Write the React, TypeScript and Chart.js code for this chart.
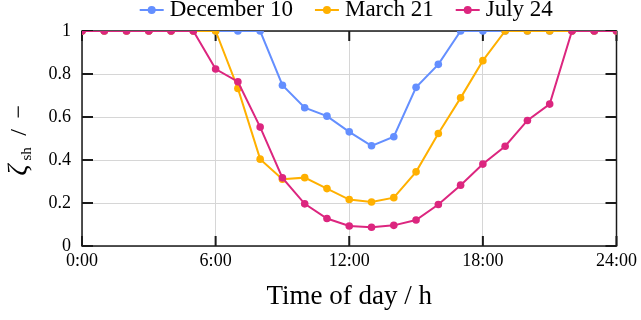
import { useEffect, useRef } from 'react';
import { Chart, registerables } from 'chart.js';

Chart.register(...registerables);

const hours = [0, 1, 2, 3, 4, 5, 6, 7, 8, 9, 10, 11, 12, 13, 14, 15, 16, 17, 18, 19, 20, 21, 22, 23, 24];
const december10 = [1, 1, 1, 1, 1, 1, 1, 1, 1, 0.748, 0.643, 0.604, 0.531, 0.466, 0.508, 0.738, 0.845, 1, 1, 1, 1, 1, 1, 1, 1];
const march21 = [1, 1, 1, 1, 1, 1, 1, 0.733, 0.404, 0.311, 0.318, 0.267, 0.216, 0.205, 0.225, 0.345, 0.523, 0.689, 0.862, 1, 1, 1, 1, 1, 1];
const july24 = [1, 1, 1, 1, 1, 1, 0.823, 0.764, 0.553, 0.317, 0.196, 0.128, 0.093, 0.087, 0.096, 0.121, 0.193, 0.283, 0.381, 0.464, 0.584, 0.66, 1, 1, 1];
const seriesNames = ['December 10', 'March 21', 'July 24'];
const seriesColors = ['#648FFF', '#FFB000', '#DC267F'];
const seriesValues = [december10, march21, july24];
const xTickValues = [0, 6, 12, 18, 24];
const xTickLabels = ['0:00', '6:00', '12:00', '18:00', '24:00'];
const yTickValues = [0, 0.2, 0.4, 0.6, 0.8, 1];
const yTickLabels = ['0', '0.2', '0.4', '0.6', '0.8', '1'];
const xTitle = 'Time of day / h';
const yTitleSymbol = 'ζ';
const yTitleSub = 'sh';
const yTitleSlash = '/';
const yTitleUnit = '−';

const SERIF = '"Liberation Serif", "Times New Roman", serif';

const framePlugin = {
  id: 'frameTicks',
  beforeDatasetsDraw(chart: any) {
    const { ctx, chartArea } = chart;
    const { left, right, top, bottom } = chartArea;
    const xs = chart.scales.x;
    const ys = chart.scales.y;
    ctx.save();
    ctx.strokeStyle = '#1a1a1a';
    ctx.lineWidth = 1.5;
    ctx.strokeRect(left, top, right - left, bottom - top);
    ctx.lineWidth = 2;
    ctx.beginPath();
    for (const v of xTickValues) {
      const px = xs.getPixelForValue(v);
      ctx.moveTo(px, bottom);
      ctx.lineTo(px, bottom - 10);
      ctx.moveTo(px, top);
      ctx.lineTo(px, top + 10);
    }
    for (const v of yTickValues) {
      const py = ys.getPixelForValue(v);
      ctx.moveTo(left, py);
      ctx.lineTo(left + 11, py);
      ctx.moveTo(right, py);
      ctx.lineTo(right - 11, py);
    }
    ctx.stroke();
    ctx.restore();
  },
};

const legendPlugin = {
  id: 'customLegend',
  afterDraw(chart: any) {
    const { ctx, chartArea } = chart;
    ctx.save();
    ctx.font = `23px ${SERIF}`;
    const markerW = 24;
    const textGap = 6;
    const itemGap = 22;
    const widths = seriesNames.map((n) => ctx.measureText(n).width);
    const total = widths.reduce((a, w) => a + markerW + textGap + w, 0) + itemGap * (seriesNames.length - 1);
    let x = (chartArea.left + chartArea.right) / 2 - total / 2 - 3;
    const cy = 10;
    const baseY = 16;
    seriesNames.forEach((name, i) => {
      ctx.strokeStyle = seriesColors[i];
      ctx.fillStyle = seriesColors[i];
      ctx.lineWidth = 2;
      ctx.beginPath();
      ctx.moveTo(x, cy);
      ctx.lineTo(x + markerW, cy);
      ctx.stroke();
      ctx.beginPath();
      ctx.arc(x + markerW / 2, cy, 4, 0, Math.PI * 2);
      ctx.fill();
      ctx.fillStyle = '#000';
      ctx.textBaseline = 'alphabetic';
      ctx.textAlign = 'left';
      ctx.fillText(name, x + markerW + textGap, baseY);
      x += markerW + textGap + widths[i] + itemGap;
    });
    ctx.restore();
  },
};

const yTitlePlugin = {
  id: 'yTitle',
  afterDraw(chart: any) {
    const { ctx, chartArea } = chart;
    const cy = (chartArea.top + chartArea.bottom) / 2;
    ctx.save();
    ctx.translate(26, cy + 37);
    ctx.rotate(-Math.PI / 2);
    ctx.fillStyle = '#000';
    ctx.textBaseline = 'alphabetic';
    ctx.textAlign = 'left';
    ctx.font = `italic 27px ${SERIF}`;
    ctx.fillText(yTitleSymbol, 0, 0);
    ctx.font = `15px ${SERIF}`;
    ctx.fillText(yTitleSub, 15, 4.5);
    ctx.font = `24px ${SERIF}`;
    ctx.textAlign = 'center';
    ctx.fillText(yTitleSlash, 43, 0);
    ctx.textAlign = 'left';
    ctx.fillText(yTitleUnit, 57, 0);
    ctx.restore();
  },
};

export default function App() {
  const ref = useRef<HTMLCanvasElement | null>(null);

  useEffect(() => {
    if (!ref.current) return;
    const order = [3, 2, 1];
    const chart = new Chart(ref.current, {
      type: 'line',
      data: {
        datasets: seriesNames.map((name, i) => ({
          label: name,
          data: hours.map((h, j) => ({ x: h, y: seriesValues[i][j] })),
          borderColor: seriesColors[i],
          backgroundColor: seriesColors[i],
          borderWidth: 2,
          pointRadius: 3.8,
          pointHoverRadius: 3.8,
          pointBorderWidth: 0,
          tension: 0,
          clip: 0,
          order: order[i],
        })),
      },
      options: {
        animation: false,
        responsive: true,
        maintainAspectRatio: false,
        events: [],
        layout: { padding: { top: 31, right: 23, bottom: 0, left: 0 } },
        plugins: {
          legend: { display: false },
          tooltip: { enabled: false },
        },
        scales: {
          x: {
            type: 'linear',
            min: 0,
            max: 24,
            afterBuildTicks(scale: any) {
              scale.ticks = xTickValues.map((v) => ({ value: v }));
            },
            afterFit(scale: any) {
              scale.height = 74;
            },
            ticks: {
              padding: 4,
              color: '#000',
              font: { family: SERIF, size: 18 },
              maxRotation: 0,
              callback: (v: any) => {
                const idx = xTickValues.indexOf(Number(v));
                return idx >= 0 ? xTickLabels[idx] : '';
              },
            },
            grid: { color: '#d6d6d6', lineWidth: 1, drawTicks: false },
            border: { display: false },
            title: {
              display: true,
              text: xTitle,
              color: '#000',
              font: { family: SERIF, size: 27 },
              padding: { top: 0, bottom: 7 },
            },
          },
          y: {
            type: 'linear',
            min: 0,
            max: 1,
            afterBuildTicks(scale: any) {
              scale.ticks = yTickValues.map((v) => ({ value: v }));
            },
            afterFit(scale: any) {
              scale.width = 82;
            },
            ticks: {
              padding: 11,
              color: '#000',
              font: { family: SERIF, size: 18 },
              callback: (v: any) => {
                const idx = yTickValues.findIndex((t) => Math.abs(t - Number(v)) < 1e-9);
                return idx >= 0 ? yTickLabels[idx] : '';
              },
            },
            grid: { color: '#d6d6d6', lineWidth: 1, drawTicks: false },
            border: { display: false },
          },
        },
      },
      plugins: [framePlugin, legendPlugin, yTitlePlugin],
    });
    return () => chart.destroy();
  }, []);

  return (
    <div style={{ position: 'fixed', left: 0, top: 0, width: 641, height: 320, background: '#fff' }}>
      <canvas ref={ref} />
    </div>
  );
}
